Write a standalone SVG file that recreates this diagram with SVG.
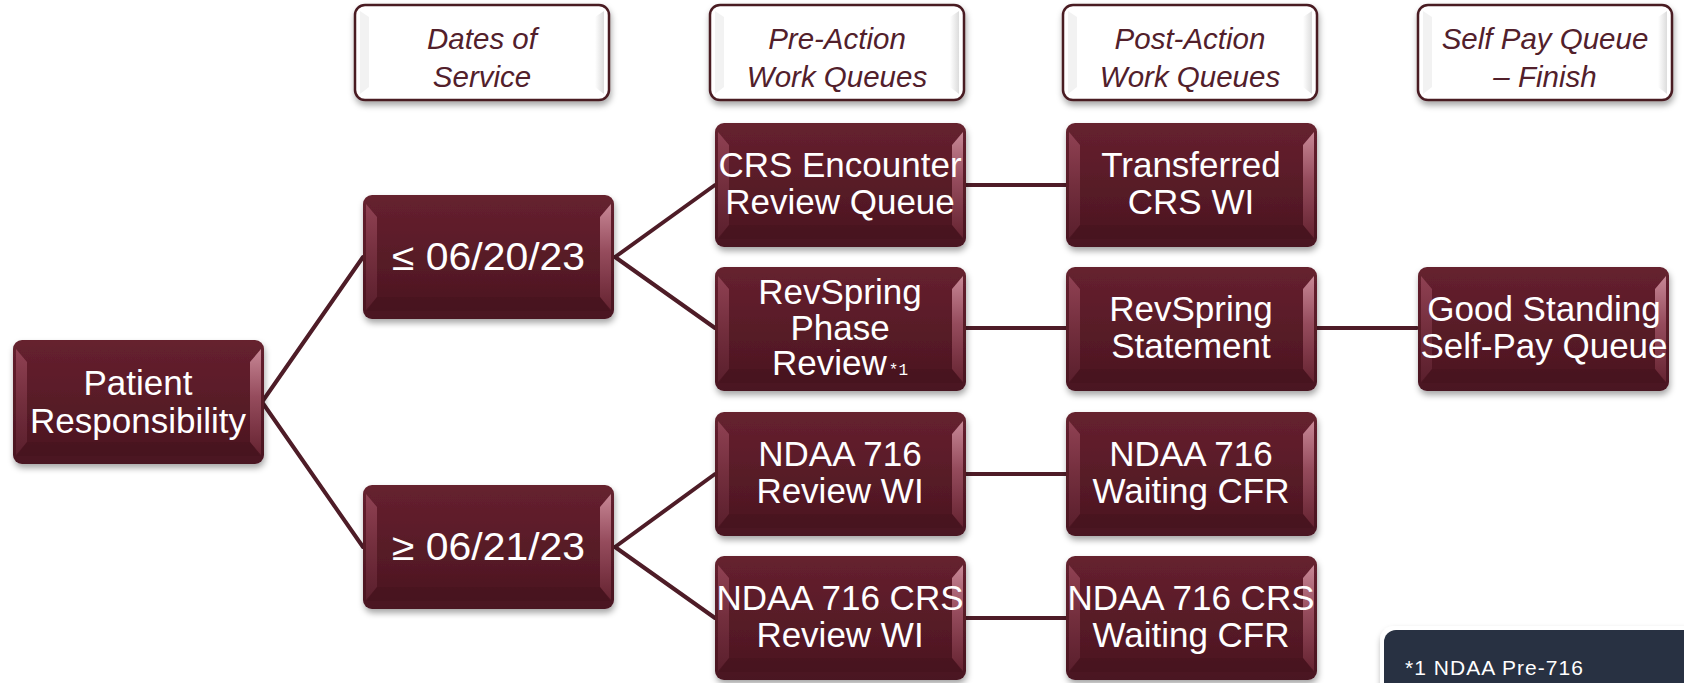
<svg xmlns="http://www.w3.org/2000/svg" xmlns:xlink="http://www.w3.org/1999/xlink" width="1684" height="683" viewBox="0 0 1684 683">
<style>
.nt{font-family:"Liberation Sans",Arial,sans-serif;font-size:35px;fill:#ffffff;text-anchor:middle}
.dt{font-family:"Liberation Sans",Arial,sans-serif;font-size:38px;fill:#ffffff}
.ht{font-family:"Liberation Sans",Arial,sans-serif;font-size:29.5px;font-style:italic;fill:#52202b;text-anchor:middle}
.sup{font-family:"Liberation Mono",monospace;font-size:16px;fill:#ffffff}
.cn{stroke:#4e1c27;stroke-width:4;fill:none;stroke-linecap:round}
.fn{font-family:"Liberation Sans",Arial,sans-serif;font-size:21px;fill:#ffffff}
</style>
<defs>
<linearGradient id="mg" x1="0" y1="0" x2="0" y2="1">
<stop offset="0" stop-color="#66212f"/>
<stop offset="1" stop-color="#4a1520"/>
</linearGradient>
<linearGradient id="lb" x1="0" y1="0" x2="0" y2="1">
<stop offset="0" stop-color="#9a4a5c"/>
<stop offset="0.5" stop-color="#7a3343"/>
<stop offset="1" stop-color="#5e2230"/>
</linearGradient>
<linearGradient id="rb" x1="0" y1="0" x2="0" y2="1">
<stop offset="0" stop-color="#d99aa8"/>
<stop offset="0.45" stop-color="#a05466"/>
<stop offset="1" stop-color="#6a2634"/>
</linearGradient>
<linearGradient id="hr" x1="0" y1="0" x2="1" y2="0">
<stop offset="0" stop-color="#ffffff"/>
<stop offset="1" stop-color="#dcdcdc"/>
</linearGradient>
<filter id="sh" x="-10%" y="-10%" width="125%" height="130%">
<feDropShadow dx="1" dy="4" stdDeviation="3" flood-color="#000000" flood-opacity="0.35"/>
</filter>
<g id="mbox">
<rect x="0" y="0" width="251" height="124" rx="9" fill="url(#mg)" filter="url(#sh)"/>
<polygon points="3,9 14,22 14,102 3,115" fill="url(#lb)" opacity="0.8"/>
<polygon points="248,9 237,22 237,102 248,115" fill="url(#rb)" opacity="0.85"/>
<polygon points="14,102 237,102 247,116 4,116" fill="#3f111b" opacity="0.3"/>
</g>
<g id="hbox">
<rect x="0" y="0" width="254" height="95" rx="10" fill="#ffffff" stroke="#4a1a22" stroke-width="2.5" filter="url(#sh)"/>
<polygon points="240,12 249,6 249,89 240,82" fill="url(#hr)"/>
<polygon points="14,12 5,6 5,89 14,82" fill="#f2f2f2"/>
</g>
</defs>
<rect width="1684" height="683" fill="#ffffff"/>

<g id="connectors">
<line class="cn" x1="262" y1="402" x2="363" y2="257"/>
<line class="cn" x1="262" y1="402" x2="363" y2="547"/>
<line class="cn" x1="615" y1="257" x2="715" y2="185"/>
<line class="cn" x1="615" y1="257" x2="715" y2="328"/>
<line class="cn" x1="615" y1="547" x2="715" y2="474"/>
<line class="cn" x1="615" y1="547" x2="715" y2="618"/>
<line class="cn" x1="966" y1="185" x2="1066" y2="185"/>
<line class="cn" x1="966" y1="328" x2="1066" y2="328"/>
<line class="cn" x1="966" y1="474" x2="1066" y2="474"/>
<line class="cn" x1="966" y1="618" x2="1066" y2="618"/>
<line class="cn" x1="1317" y1="328" x2="1417" y2="328"/>
</g>

<g id="h-dates"><use href="#hbox" x="355" y="5"/><text class="ht" x="482" y="49">Dates of</text><text class="ht" x="482" y="87">Service</text></g>
<g id="h-pre"><use href="#hbox" x="710" y="5"/><text class="ht" x="837" y="49">Pre-Action</text><text class="ht" x="837" y="87">Work Queues</text></g>
<g id="h-post"><use href="#hbox" x="1063" y="5"/><text class="ht" x="1190" y="49">Post-Action</text><text class="ht" x="1190" y="87">Work Queues</text></g>
<g id="h-self"><use href="#hbox" x="1418" y="5"/><text class="ht" x="1545" y="49">Self Pay Queue</text><text class="ht" x="1545" y="87">– Finish</text></g>

<g id="n-patient"><use href="#mbox" x="13" y="340"/><text class="nt" x="138" y="395">Patient</text><text class="nt" x="138" y="433">Responsibility</text></g>
<g id="n-le"><use href="#mbox" x="363" y="195"/><text class="dt" x="392" y="270" textLength="193" lengthAdjust="spacingAndGlyphs">≤ 06/20/23</text></g>
<g id="n-ge"><use href="#mbox" x="363" y="485"/><text class="dt" x="392" y="560" textLength="193" lengthAdjust="spacingAndGlyphs">≥ 06/21/23</text></g>

<g id="n-crs-enc"><use href="#mbox" x="715" y="123"/><text class="nt" x="840" y="177">CRS Encounter</text><text class="nt" x="840" y="214">Review Queue</text></g>
<g id="n-revphase"><use href="#mbox" x="715" y="267"/><text class="nt" x="840" y="304">RevSpring</text><text class="nt" x="840" y="340">Phase</text><text class="nt" x="840" y="375">Review<tspan class="sup" dx="2">*1</tspan></text></g>
<g id="n-ndaa-rev"><use href="#mbox" x="715" y="412"/><text class="nt" x="840" y="466">NDAA 716</text><text class="nt" x="840" y="503">Review WI</text></g>
<g id="n-ndaa-crs-rev"><use href="#mbox" x="715" y="556"/><text class="nt" x="840" y="610">NDAA 716 CRS</text><text class="nt" x="840" y="647">Review WI</text></g>

<g id="n-transferred"><use href="#mbox" x="1066" y="123"/><text class="nt" x="1191" y="177">Transferred</text><text class="nt" x="1191" y="214">CRS WI</text></g>
<g id="n-revstmt"><use href="#mbox" x="1066" y="267"/><text class="nt" x="1191" y="321">RevSpring</text><text class="nt" x="1191" y="358">Statement</text></g>
<g id="n-ndaa-wait"><use href="#mbox" x="1066" y="412"/><text class="nt" x="1191" y="466">NDAA 716</text><text class="nt" x="1191" y="503">Waiting CFR</text></g>
<g id="n-ndaa-crs-wait"><use href="#mbox" x="1066" y="556"/><text class="nt" x="1191" y="610">NDAA 716 CRS</text><text class="nt" x="1191" y="647">Waiting CFR</text></g>

<g id="n-goodstanding"><use href="#mbox" x="1418" y="267"/><text class="nt" x="1544" y="321">Good Standing</text><text class="nt" x="1544" y="358">Self-Pay Queue</text></g>

<g id="footnote">
<rect x="1380" y="626" width="320" height="80" rx="14" fill="#ffffff" filter="url(#sh)"/>
<rect x="1384" y="630" width="320" height="80" rx="12" fill="#283142"/>
<text class="fn" x="1405" y="675" textLength="178" lengthAdjust="spacing">*1 NDAA Pre-716</text>
</g>
</svg>
